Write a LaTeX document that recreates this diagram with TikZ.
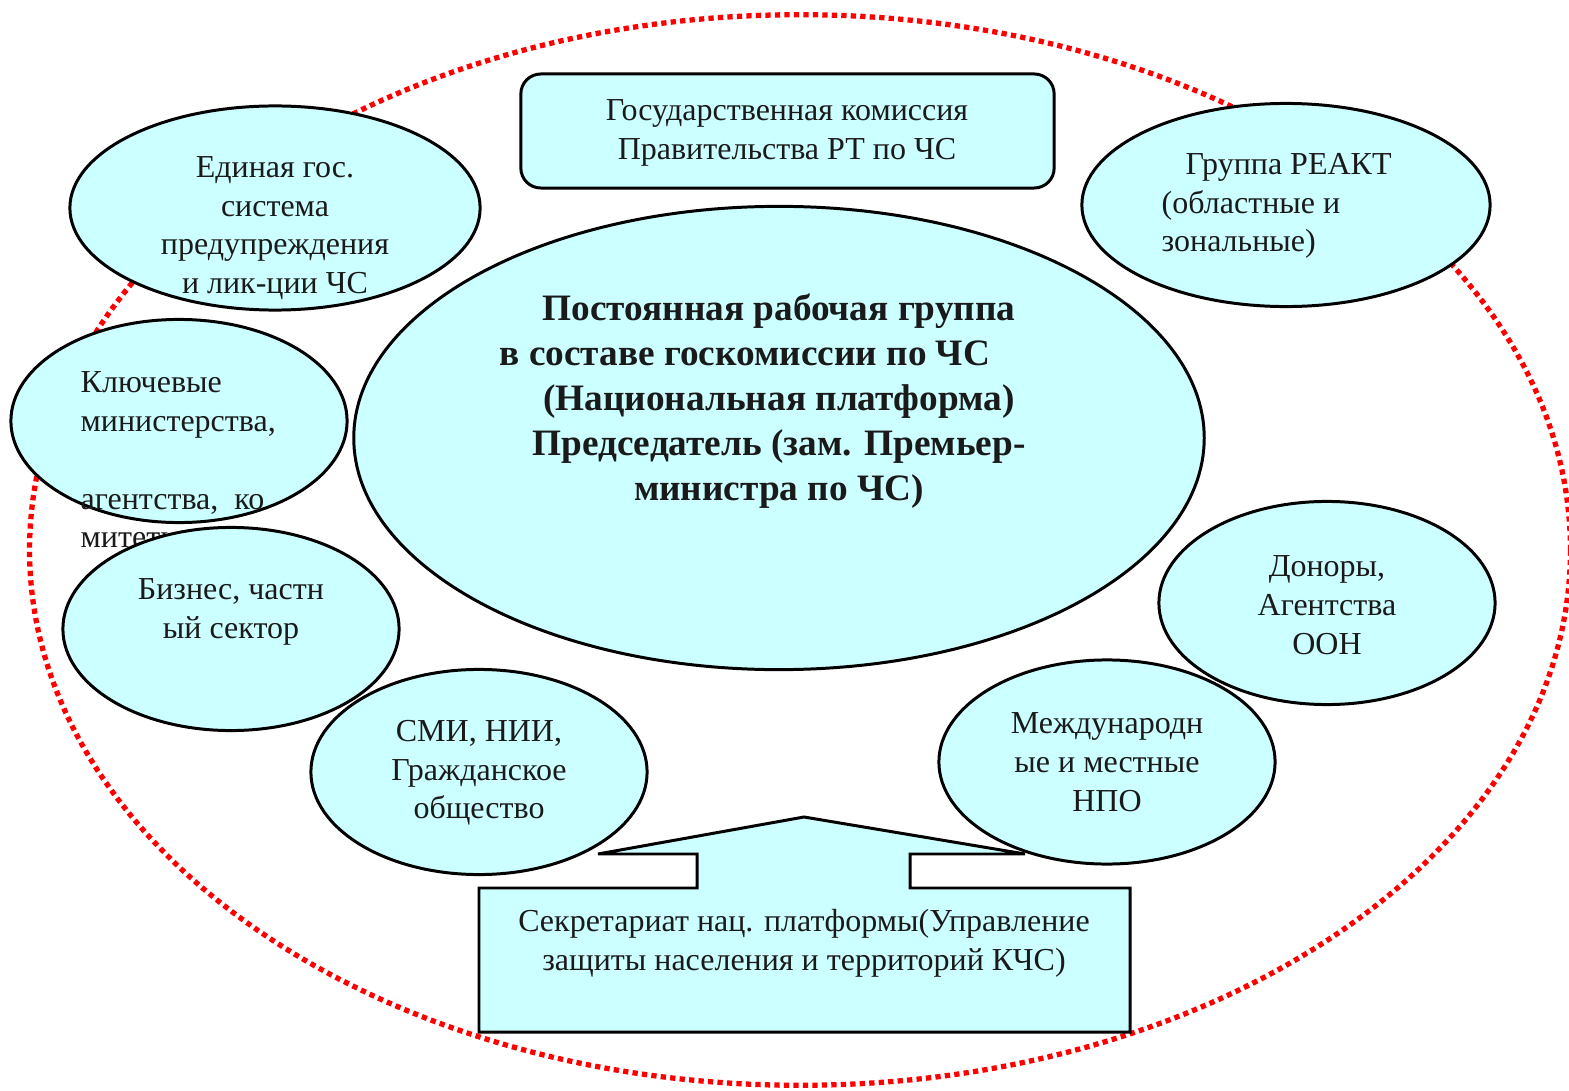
\documentclass[tikz,border=0pt]{standalone}
\usepackage{fontspec}
\setmainfont{Liberation Serif}
\usetikzlibrary{shapes.geometric}
\definecolor{fillc}{HTML}{CCFFFF}
\definecolor{dotred}{HTML}{FF0000}
\definecolor{ink}{HTML}{1A1A1A}
\begin{document}
\begin{tikzpicture}[x=0.01cm,y=-0.01cm,
  blob/.style={ellipse,draw=black,line width=0.85pt,fill=fillc,inner sep=0pt},
  box/.style={draw=black,line width=0.85pt,fill=fillc},
  txt/.style={font=\fontsize{9.1}{11}\selectfont,align=center,inner sep=0pt,text=ink},
  ltxt/.style={font=\fontsize{9.1}{11}\selectfont,align=left,inner sep=0pt,text=ink},
  btxt/.style={font=\fontsize{10.6}{12.8}\selectfont\bfseries,align=center,inner sep=0pt,text=ink},
  border/.style={draw=dotred,line width=1.5pt,dash pattern=on 1.5pt off 1.2pt}]
\useasboundingbox (0,0) rectangle (1569,1091);
% outer dotted boundary
\draw[border] (800,550) ellipse [x radius=7.7cm, y radius=5.35cm];
% central ellipse
\node[blob,minimum width=8.5cm,minimum height=4.63cm] (main) at (779,438) {};
% top box
\node[box,rounded corners=0.2cm,minimum width=5.33cm,minimum height=1.14cm] (gk) at (787.5,131) {};
% secretariat callout
\coordinate (s1) at (479,888);
\coordinate (s2) at (697,888);
\coordinate (s3) at (697,854);
\coordinate (s4) at (598,854);
\coordinate (s5) at (804,817);
\coordinate (s6) at (1025,854);
\coordinate (s7) at (910,854);
\coordinate (s8) at (910,888);
\coordinate (s9) at (1130,888);
\coordinate (s10) at (1130,1032);
\coordinate (s11) at (479,1032);
\draw[box] (s1) -- (s2) -- (s3) -- (s4) -- (s5) -- (s6) -- (s7) -- (s8) -- (s9) -- (s10) -- (s11) -- cycle;
% satellites
\node[blob,minimum width=4.1cm,minimum height=2.04cm] (edin) at (275,208) {};
\node[blob,minimum width=4.08cm,minimum height=2.03cm] (react) at (1286,205) {};
\node[blob,minimum width=3.36cm,minimum height=2.03cm] (klu) at (179,421) {};
\node[ltxt,anchor=west] (klut) at (80,460) {Ключевые\\министерства,\\\strut\\агентства,\ \ ко\\митеты};
\node[blob,minimum width=3.36cm,minimum height=2.03cm] (biz) at (231,629) {};
\node[blob,minimum width=3.36cm,minimum height=2.05cm] (smi) at (479,772) {};
\node[blob,minimum width=3.36cm,minimum height=2.03cm] (don) at (1327,603) {};
\node[blob,minimum width=3.36cm,minimum height=2.04cm] (npo) at (1107,762) {};
% texts
\node[btxt] (maint) at (779,401) {Постоянная рабочая группа\\в составе госкомиссии по ЧС\rule{0.68cm}{0pt}\\(Национальная платформа)\\Председатель (зам. Премьер-\\министра по ЧС)};
\node[txt] (gkt) at (787,133) {Государственная комиссия\\Правительства РТ по ЧС};
\node[txt] (edint) at (275,228) {Единая гос.\\система\\предупреждения\\и лик-ции ЧС};
\node[ltxt,anchor=west] (reactt) at (1161,206) {\hspace*{0.24cm}Группа РЕАКТ\\(областные и\\зональные)};
\node[txt] (bizt) at (231,612) {Бизнес, частн\\ый сектор};
\node[txt] (smit) at (479,773) {СМИ, НИИ,\\Гражданское\\общество};
\node[txt] (dont) at (1327,605) {Доноры,\\Агентства\\ООН};
\node[txt] (npot) at (1107,762) {Международн\\ые и местные\\НПО};
\node[txt] (sect) at (804,943) {Секретариат нац. платформы(Управление\\защиты населения и территорий КЧС)};
\end{tikzpicture}
\end{document}
